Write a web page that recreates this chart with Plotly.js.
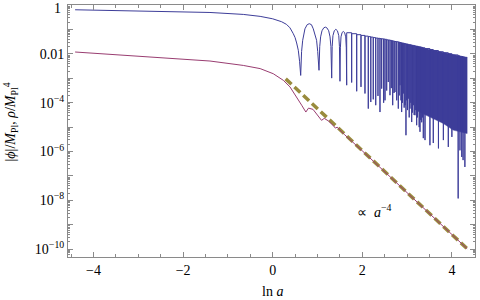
<!DOCTYPE html>
<html><head><meta charset="utf-8">
<script src="https://cdn.plot.ly/plotly-3.0.1.min.js"></script>
<style>html,body{margin:0;padding:0;background:#fff}#chart{width:480px;height:300px}</style>
</head><body><div id="chart"></div>
<script>
// ---- |phi|/M_Pl : slow roll part and first wide arches (x = ln a, y = log10 value) ----
const phiX = [-4.41,-3.5,-2.51,-1.40,-0.656,-0.28,0.0,0.085,0.2,0.31,0.386,0.46,0.50,0.535,0.572,0.60,0.625,
  0.645,0.67,0.72,0.77,0.817,0.865,0.906,0.95,0.98,1.005,1.034,
  1.05,1.07,1.10,1.14,1.175,1.21,1.25,1.28,1.30,1.317,
  1.328,1.345,1.375,1.41,1.445,1.475,1.49,1.502,
  1.511,1.525,1.55,1.577,1.605,1.63,1.643,1.652];
const phiLog = [-0.19,-0.215,-0.245,-0.30,-0.38,-0.46,-0.56,-0.60,-0.68,-0.79,-0.93,-1.17,-1.33,-1.55,-1.85,-2.3,-2.88,
  -1.9,-1.44,-0.97,-0.80,-0.76,-0.80,-0.97,-1.2,-1.44,-1.9,-2.67,
  -1.7,-1.3,-1.05,-0.93,-0.90,-0.93,-1.05,-1.3,-1.7,-2.99,
  -1.7,-1.25,-1.05,-0.99,-1.05,-1.25,-1.7,-3.12,
  -1.75,-1.3,-1.12,-1.08,-1.12,-1.3,-1.75,-3.28];

// ---- narrow oscillations: zero (dip) positions, dip depths, arch tops (log10) ----
const zeroX = [1.652,1.763,1.875,1.971,2.060,2.134,2.19,2.245,2.30,2.35,2.395,2.433,2.477,2.507,2.545,2.58,2.618,2.648,2.679,2.708,
  2.73,2.768,2.804,2.824,2.842,2.864,2.879,2.897,2.915,2.935,2.953,2.975,2.993,3.009,3.027,3.047,3.065,3.083,3.103,3.121,
  3.138,3.158,3.176,3.194,3.214,3.232,3.25,3.27,3.288,3.306,3.326,3.344,3.362,3.40,3.51,3.585,3.70,3.81,3.92,4.00,
  4.14,4.18,4.22,4.25,4.29,4.34];
const dipLog = [-3.28,-3.17,-3.53,-3.35,-3.62,-4.24,-3.97,-3.86,-4.10,-3.72,-4.38,-3.42,-4.0,-3.90,-3.5,-3.15,-3.69,-3.4,-4.10,-3.6,
  -3.56,-3.90,-4.24,-3.7,-3.28,-3.9,-4.38,-4.0,-3.62,-4.2,-4.10,-5.33,-3.9,-4.3,-3.83,-4.6,-4.24,-4.0,-4.79,-4.4,
  -4.10,-4.5,-4.51,-4.3,-4.92,-4.6,-4.3,-5.0,-5.19,-4.7,-4.8,-4.6,-5.45,-5.53,-5.74,-5.65,-5.87,-5.53,-5.81,-5.40,
  -7.92,-5.95,-6.22,-6.35,-6.63,-2.15];
const topLog = [-1.13,-1.17,-1.21,-1.24,-1.27,-1.29,-1.31,-1.33,-1.35,-1.36,-1.37,-1.38,-1.39,-1.40,-1.42,-1.43,-1.44,-1.45,-1.47,-1.48,
  -1.49,-1.50,-1.51,-1.52,-1.53,-1.54,-1.55,-1.55,-1.56,-1.57,-1.58,-1.59,-1.59,-1.60,-1.61,-1.62,-1.62,-1.63,-1.64,-1.65,
  -1.65,-1.66,-1.67,-1.68,-1.68,-1.69,-1.70,-1.71,-1.71,-1.72,-1.73,-1.74,-1.75,-1.78,-1.82,-1.86,-1.91,-1.95,-1.99,-2.04,
  -2.08,-2.10,-2.11,-2.13,-2.14];

// ---- unresolved, densely oscillating band ----
const bandX = [3.20,3.51,3.81,4.03,4.34];
const bandTopLog = [-1.69,-1.81,-1.93,-2.02,-2.15];
const bandBotLog = [-4.31,-4.58,-4.85,-5.12,-5.26];

// ---- rho/M_Pl^4 ----
const rhoX = [-4.41,-3.5,-2.51,-1.40,-0.656,-0.28,0.013,0.237,0.386,0.536,0.647,0.74,0.80,0.90,1.0,1.09,1.15,1.24,1.35,1.40,1.44,1.6,2.0,3.0,4.34];
const rhoLog = [-1.92,-2.03,-2.15,-2.29,-2.47,-2.60,-2.81,-3.08,-3.35,-3.76,-4.10,-4.38,-4.22,-4.27,-4.50,-4.72,-4.64,-4.74,-4.93,-5.04,-5.00,-5.30,-5.97,-7.69,-9.98];

// ---- a^-4 guide line ----
const guideX = [0.29,4.34];
const guideLog = [-3.02,-9.98];

// ---- y tick labels (every second decade) ----
const yLabelExp = [0, -2, -4, -6, -8, -10];
const yLabelText = ['1', '0.01', '10<sup>−4</sup>', '10<sup>−6</sup>', '10<sup>−8</sup>', '10<sup>−10</sup>'];
const xTickVals = [-4, -2, 0, 2, 4];
const xTickText = ['−4', '−2', '0', '2', '4'];

const p10 = v => Math.pow(10, v);

// build step-shaped oscillation path
const oscX = [], oscY = [];
for (let i = 0; i < zeroX.length; i++) {
  oscX.push(zeroX[i]); oscY.push(p10(dipLog[i]));
  if (i < topLog.length) { oscX.push(zeroX[i+1]); oscY.push(p10(topLog[i])); }
}
const bandPX = bandX.concat(bandX.slice().reverse());
const bandPY = bandTopLog.map(p10).concat(bandBotLog.slice().reverse().map(p10));

const blue = 'rgb(61,61,153)', purple = 'rgb(153,61,113)', olive = 'rgb(153,139,61)';
const serif = 'Liberation Serif';

const traces = [
  {x: bandPX, y: bandPY, mode: 'lines', fill: 'toself', fillcolor: blue, line: {width: 0.5, color: blue}, hoverinfo: 'skip'},
  {x: oscX, y: oscY, mode: 'lines', line: {color: blue, width: 1, shape: 'vh'}},
  {x: phiX, y: phiLog.map(p10), mode: 'lines', line: {color: blue, width: 1}},
  {x: guideX, y: guideLog.map(p10), mode: 'lines', line: {color: olive, width: 3.5, dash: '8px,4px'}},
  {x: rhoX, y: rhoLog.map(p10), mode: 'lines', line: {color: purple, width: 1}}
];

const yTickVals = [], yTickText = [], yMinor = [];
for (let k = -11; k <= 0; k++) {
  const j = yLabelExp.indexOf(k);
  yTickVals.push(p10(k)); yTickText.push(j >= 0 && k !== 0 ? yLabelText[j] : '');
  for (let m = 2; m <= 9; m++) yMinor.push(m * p10(k));
}
const frame = '#8a8a8a';
const tf = {family: serif, size: 14, color: '#000'};
const layout = {
  width: 480, height: 300,
  margin: {l: 68, r: 5, t: 5, b: 43},
  paper_bgcolor: '#fff', plot_bgcolor: '#fff',
  showlegend: false, hovermode: false,
  font: tf,
  xaxis: {range: [-4.569, 4.516], showgrid: false, zeroline: false, showline: true, linecolor: frame, linewidth: 1,
    mirror: 'ticks', ticks: 'inside', ticklen: 5, tickcolor: frame, tickmode: 'array', tickvals: xTickVals, ticktext: xTickText,
    tickfont: tf,
    minor: {tickmode: 'linear', tick0: 0, dtick: 0.5, ticks: 'inside', ticklen: 3, tickcolor: frame}},
  yaxis: {type: 'log', range: [-10.32, 0.006], showgrid: false, zeroline: false, showline: true, linecolor: frame, linewidth: 1,
    mirror: 'ticks', ticks: 'inside', ticklen: 5, tickcolor: frame, tickmode: 'array', tickvals: yTickVals, ticktext: yTickText,
    tickfont: tf,
    minor: {tickmode: 'array', tickvals: yMinor, ticks: 'inside', ticklen: 2, tickcolor: frame}},
  annotations: [
    {xref: 'paper', yref: 'paper', x: 0, xshift: -5, y: 1, yshift: -3.5, xanchor: 'right', yanchor: 'middle', showarrow: false,
      text: yLabelText[0], font: tf},
    {xref: 'x', yref: 'y', x: 1.84, y: -8.44, xanchor: 'left', yanchor: 'middle', showarrow: false,
      text: '∝  <i>a</i><sup>−4</sup>', font: tf},
    {xref: 'x', yref: 'paper', x: 0, y: -0.1377, xanchor: 'center', yanchor: 'middle', showarrow: false,
      text: 'ln <i>a</i>', font: tf},
    {xref: 'paper', yref: 'paper', x: -0.14, y: 0.534, xanchor: 'center', yanchor: 'middle', showarrow: false, textangle: -90,
      text: '|<i>ϕ</i>|/<i>M</i><sub>Pl</sub>, <i>ρ</i>/<i>M</i><sub>Pl</sub><sup>4</sup>', font: tf}
  ]
};
Plotly.newPlot('chart', traces, layout, {staticPlot: true, displayModeBar: false});
</script></body></html>
